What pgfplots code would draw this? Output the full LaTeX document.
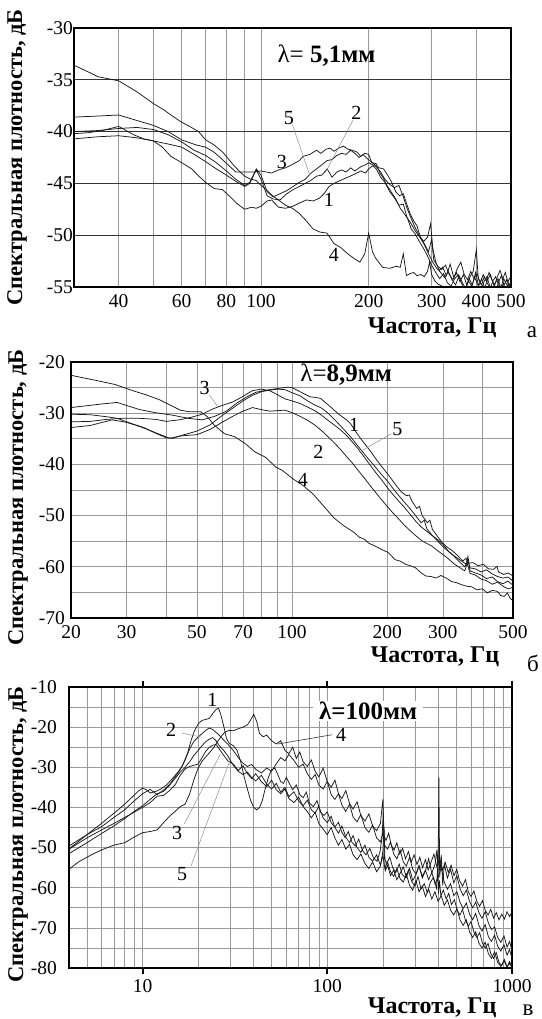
\documentclass[border=0pt]{standalone}
\usepackage{fontspec}
\setmainfont{Liberation Serif}
\usepackage{pgfplots}
\pgfplotsset{compat=1.18}
\pgfkeys{/pgf/number format/assume math mode=true}
\tikzset{
 mylead/.style={black!45, line width=0.5pt},
 mynum/.style={font=\fontsize{20}{20}\selectfont, inner sep=1pt},
 mylam/.style={font=\fontsize{25}{25}\selectfont, inner sep=2pt},
 mylet/.style={font=\fontsize{23}{23}\selectfont},
 mydark/.style={black!80, line width=0.8pt},
 mycurve/.style={line width=0.75pt, black!90},
}
\begin{document}
\begin{tikzpicture}[x=1pt,y=1pt]
\useasboundingbox (0,0) rectangle (541,1019);
% ---------------- panel a
\begin{axis}[xmode=log, scale only axis, clip mode=individual,
 axis line style={line width=2.4pt, line cap=rect},
 major tick length=0pt, minor tick length=0pt,
 tick label style={font=\fontsize{19.5}{19.5}\selectfont},
 yticklabel style={inner xsep=1pt},
 xticklabel style={yshift=-4pt},
 grid style={black!40, line width=0.6pt},
 xmajorgrids, xminorgrids,
 xlabel style={font=\bfseries\fontsize{24}{24}\selectfont, anchor=east, at={(axis description cs:0.975,-0.156)}},
 ylabel style={font=\bfseries\fontsize{22.5}{22.5}\selectfont, anchor=center, at={(axis description cs:-0.130,0.5)}},
 at={(74pt,732pt)}, anchor=south west, width=437pt, height=259pt,
 xmin=30, xmax=500, ymin=-55, ymax=-30,
 xtick={40,60,80,100,200,300,400,500}, xticklabels={40,60,80,100,200,300,400,500},
 minor xtick={50,70,90},
 ytick={-55,-50,-45,-40,-35,-30},
 xlabel={Частота, Гц},
 ylabel={Спектральная плотность, дБ},
]
\draw[mydark] (axis cs:30,-35) -- (axis cs:500,-35);
\draw[mydark] (axis cs:30,-40) -- (axis cs:500,-40);
\draw[mydark] (axis cs:30,-45) -- (axis cs:500,-45);
\draw[mydark] (axis cs:30,-50) -- (axis cs:500,-50);
% curve 4
\addplot[mycurve] coordinates {(30,-33.6)(32.7,-34.2)(35,-34.7)(37.4,-34.9)(40,-35.1)(41.8,-35.5)(44.7,-36.1)(47.8,-36.8)(50,-37.3)(53.5,-37.9)(56,-38.4)(60,-39.1)(63.9,-39.6)(66.9,-40.0)(70,-40.8)(74,-41.3)(78.2,-42.0)(80,-42.4)(83.6,-43.2)(87.4,-43.9)(90,-44.3)(93.5,-44.6)(96.7,-44.7)(100,-45.2)(103.4,-45.6)(106.9,-46.1)(111.8,-46.6)(116.9,-47.1)(122.3,-47.4)(127.9,-47.9)(133.7,-48.6)(139.8,-49.4)(146.2,-49.7)(152.9,-49.8)(159.9,-50.8)(167.2,-51.2)(174.8,-51.8)(182.9,-52.3)(189,-52.6)(195,-51.8)(200,-49.8)(205,-51.6)(209,-52.2)(218.7,-53.1)(228.7,-53.2)(239,-53.0)(245,-53.1)(250,-51.8)(255,-53.9)(261.5,-53.7)(267,-53.6)(273,-53.9)(280,-53.8)(286,-54.0)(292,-53.5)(296,-52.6)(300,-53.8)(306,-54.4)(312,-54.7)(320,-54.9)(325,-55.4)(330,-55.8)};
% curve 3
\addplot[mycurve] coordinates {(30,-38.6)(35,-38.5)(40,-38.4)(44.7,-38.9)(50,-39.4)(55,-40.0)(60,-40.8)(66,-41.3)(70,-41.5)(74,-42.0)(78,-42.7)(82,-43.4)(85,-43.9)(90,-43.9)(95.6,-43.9)(100,-43.8)(107,-44.0)(112,-43.7)(117,-43.5)(122,-43.2)(128,-42.8)(131,-42.4)(137,-42.2)(143,-41.8)(147,-42.1)(152,-41.7)(156,-41.6)(160,-41.9)(165,-41.6)(170,-41.4)(175,-41.7)(180,-41.8)(186,-42.0)(190,-42.4)(195,-42.1)(200,-42.2)(204,-43.0)(210,-43.1)(215,-44.0)(220,-44.5)(225,-45.2)(231,-45.8)(238,-46.5)(245,-47.4)(250,-47.8)(257,-48.4)(263,-49.4)(270,-49.9)(277,-50.6)(285,-51.3)(292,-52.0)(300,-52.9)(308,-53.6)(316,-54.2)(324,-53.7)(332,-54.6)(340,-54.9)(348,-54.2)(356,-53.8)(364,-54.7)(372,-55.2)(380,-54.4)(388,-54.9)(396,-54.1)(404,-54.8)(412,-55.3)(420,-54.5)(428,-54.0)(436,-54.9)(444,-55.4)(452,-54.6)(460,-54.2)(468,-55.1)(476,-54.7)(484,-55.3)(492,-54.6)(500,-55.0)};
% curve 1
\addplot[mycurve] coordinates {(30,-40.2)(33,-40.1)(36,-39.9)(40,-39.5)(42,-39.9)(44,-40.3)(47,-40.7)(50,-40.9)(53,-41.5)(56,-42.4)(60,-43.0)(64,-43.6)(67,-44.3)(70,-44.9)(74,-45.5)(78,-45.6)(82,-46.3)(86,-47.0)(90,-47.5)(94,-47.3)(97,-47.4)(100,-47.2)(104,-46.7)(107,-46.6)(112,-47.3)(117,-47.4)(123,-47.2)(128,-46.9)(134,-46.6)(140,-46.7)(146,-46.4)(150,-46.0)(155,-45.3)(160,-45.0)(167,-44.7)(175,-44.4)(183,-44.1)(190,-43.8)(196,-44.0)(200,-43.6)(205,-43.3)(210,-43.6)(216,-44.4)(222,-44.9)(229,-45.8)(236,-46.4)(243,-47.1)(250,-47.0)(256,-48.3)(263,-48.9)(270,-49.6)(278,-50.2)(286,-50.9)(294,-51.8)(302,-52.6)(310,-53.2)(318,-53.6)(326,-54.1)(334,-53.5)(342,-54.3)(350,-54.8)(358,-53.9)(366,-54.6)(374,-55.2)(382,-54.2)(390,-54.8)(398,-53.6)(406,-54.9)(414,-54.2)(422,-55.1)(430,-54.3)(438,-53.8)(446,-54.7)(454,-55.3)(462,-54.5)(470,-53.9)(478,-54.8)(486,-54.3)(494,-55.0)(500,-54.6)};
% curve 5
\addplot[mycurve] coordinates {(30,-40.0)(35,-39.9)(40,-39.7)(45,-39.6)(50,-39.8)(55,-40.3)(60,-41.0)(65,-41.8)(70,-42.3)(75,-43.0)(80,-43.8)(85,-44.6)(90,-45.2)(93,-44.9)(97,-43.6)(100,-44.2)(104,-45.8)(108,-46.3)(113,-46.0)(118,-45.7)(123,-45.3)(128,-44.9)(133,-44.6)(138,-44.0)(143,-43.6)(148,-43.2)(153,-42.8)(158,-42.7)(163,-42.3)(168,-42.1)(173,-42.2)(178,-41.8)(183,-42.1)(188,-42.5)(193,-42.2)(198,-42.6)(203,-42.9)(208,-43.2)(214,-43.5)(220,-43.6)(226,-44.2)(232,-44.9)(238,-45.8)(244,-46.2)(250,-46.0)(255,-46.9)(261,-47.9)(267,-48.6)(273,-49.1)(279,-50.2)(285,-50.6)(292,-50.2)(298,-48.9)(302,-51.2)(308,-52.6)(315,-53.4)(322,-53.1)(330,-53.9)(338,-52.8)(346,-54.1)(354,-53.2)(362,-52.6)(370,-53.8)(378,-54.3)(386,-53.5)(394,-54.2)(402,-53.7)(410,-54.6)(418,-53.8)(426,-54.4)(434,-53.6)(442,-54.3)(450,-54.8)(458,-54.0)(466,-53.4)(474,-54.2)(482,-53.6)(490,-54.5)(500,-53.9)};
% curve 2
\addplot[mycurve] coordinates {(30,-40.7)(35,-40.5)(40,-40.4)(45,-40.6)(50,-40.9)(55,-41.2)(60,-41.5)(65,-42.2)(70,-42.9)(75,-43.6)(80,-44.2)(85,-44.8)(90,-45.3)(93,-45.0)(97,-43.7)(100,-44.6)(104,-46.2)(108,-46.5)(113,-46.6)(118,-46.0)(123,-45.6)(128,-45.3)(133,-45.0)(138,-44.7)(143,-44.3)(148,-44.2)(153,-43.6)(158,-44.4)(163,-43.9)(168,-43.7)(173,-43.9)(178,-43.5)(183,-43.8)(190,-43.4)(196,-43.2)(200,-43.0)(205,-43.2)(210,-43.4)(216,-43.9)(222,-44.6)(229,-45.1)(236,-45.4)(243,-45.2)(250,-46.3)(256,-47.4)(263,-48.4)(270,-49.3)(278,-50.1)(286,-50.8)(294,-51.6)(300,-50.4)(304,-52.4)(312,-53.0)(320,-53.3)(328,-52.9)(336,-53.8)(344,-54.3)(352,-53.6)(360,-54.5)(368,-53.8)(376,-54.8)(384,-54.0)(392,-53.5)(400,-51.4)(405,-54.2)(413,-54.8)(421,-54.0)(429,-54.6)(437,-55.2)(445,-54.4)(453,-54.0)(461,-54.8)(469,-55.0)(477,-54.2)(485,-54.7)(493,-55.1)(500,-54.4)};
\draw[mylead] (axis cs:122.3,-39.3) -- (axis cs:136.8,-44.2);
\draw[mylead] (axis cs:180.8,-38.9) -- (axis cs:151.1,-44.0);
\node[mynum] at (axis cs:119.6,-38.7) {5};
\node[mynum] at (axis cs:184.9,-38.2) {2};
\node[mynum] at (axis cs:114.4,-42.9) {3};
\node[mynum] at (axis cs:154.7,-46.6) {1};
\node[mynum] at (axis cs:159.9,-51.9) {4};
\node[mylam] at (axis cs:152.4,-32.7) {λ= \textbf{5,1мм}};
\node[mylet] at (axis description cs:1.048,-0.174) {а};
\end{axis}
% ---------------- panel b
\begin{axis}[xmode=log, scale only axis, clip mode=individual,
 axis line style={line width=2.4pt, line cap=rect},
 major tick length=0pt, minor tick length=0pt,
 tick label style={font=\fontsize{19.5}{19.5}\selectfont},
 yticklabel style={inner xsep=6pt},
 xticklabel style={yshift=-4pt},
 grid style={black!40, line width=0.6pt},
 xmajorgrids, xminorgrids, ymajorgrids, yminorgrids,
 xlabel style={font=\bfseries\fontsize{24}{24}\selectfont, anchor=east, at={(axis description cs:0.977,-0.152)}},
 ylabel style={font=\bfseries\fontsize{22.5}{22.5}\selectfont, anchor=center, at={(axis description cs:-0.120,0.47)}},
 at={(71pt,401pt)}, anchor=south west, width=442pt, height=256pt,
 xmin=20, xmax=500, ymin=-70, ymax=-20,
 xtick={20,30,50,70,100,200,300,500}, xticklabels={20,30,50,70,100,200,300,500},
 minor xtick={40,60,80,90,400},
 ytick={-70,-60,-50,-40,-30,-20}, minor ytick={-65,-55,-45,-35,-25},
 xlabel={Частота, Гц},
 ylabel={Спектральная плотность, дБ},
]
% curve 4
\addplot[mycurve] coordinates {(20,-22.6)(24,-23.6)(27.6,-24.4)(31,-25.5)(34.5,-26.4)(38.2,-27.4)(41.1,-28.4)(44.3,-29.4)(47.1,-29.7)(51.4,-29.7)(54,-30.7)(56.7,-32.3)(61.1,-34.0)(65.9,-34.6)(71,-35.9)(76.5,-37.6)(82.4,-38.6)(88.8,-40.5)(93.3,-41.2)(100.5,-42.8)(108.3,-44.1)(116.6,-45.8)(125.7,-48.1)(135.4,-50.4)(145.9,-52.0)(157.2,-53.3)(163,-54.2)(169.3,-54.6)(175,-55.4)(182.4,-55.9)(191.9,-56.6)(201.4,-57.2)(211.8,-58.6)(220,-58.9)(228.3,-59.5)(237,-59.8)(245.9,-60.2)(255,-61.1)(264.9,-61.8)(275,-61.9)(285.4,-62.2)(296,-61.7)(307.5,-62.2)(320,-62.9)(331.3,-63.1)(344,-63.5)(357,-63.8)(370,-63.9)(384.6,-64.5)(400,-64.3)(414.4,-65.1)(430,-64.6)(446.4,-64.8)(457,-65.6)(469,-65.8)(480,-65.1)(490,-66.2)(500,-66.6)};
% curve 1
\addplot[mycurve] coordinates {(20,-28.9)(22,-28.6)(25,-28.2)(28,-27.9)(30,-28.5)(33,-29.3)(37,-29.9)(42,-30.4)(47,-31.0)(52,-31.3)(57,-30.6)(62,-29.6)(67,-28.0)(72,-26.8)(77,-25.9)(85,-25.4)(92,-25.1)(97,-24.9)(100,-25.0)(106,-25.8)(114,-26.8)(118,-26.9)(123,-27.1)(128,-28.0)(132,-28.7)(137,-29.6)(142,-30.4)(148,-31.2)(153,-32.0)(159,-33.6)(165,-35.0)(171,-36.2)(178,-37.6)(184,-38.9)(191,-40.2)(198,-41.4)(206,-42.8)(214,-44.2)(222,-45.4)(230,-46.1)(235,-46.0)(239,-47.1)(248,-48.6)(253,-48.2)(258,-50.0)(268,-51.4)(273,-50.9)(278,-52.7)(288,-54.0)(299,-55.3)(310,-56.2)(322,-56.9)(334,-57.8)(347,-58.9)(355,-58.3)(360,-59.3)(374,-59.2)(388,-59.8)(403,-59.5)(418,-60.4)(434,-60.5)(445,-59.9)(450,-61.0)(467,-61.5)(483,-61.2)(500,-61.8)};
% curve 5
\addplot[mycurve] coordinates {(20,-30.2)(23,-30.3)(26,-30.7)(28,-31.0)(31,-32.0)(34,-32.8)(37,-33.9)(40,-34.8)(42,-34.9)(45,-34.3)(50,-33.5)(55,-32.3)(60,-30.5)(65,-29.0)(70,-27.6)(75,-26.5)(80,-25.8)(85,-25.5)(90,-25.3)(95,-25.4)(100,-26.0)(106,-26.6)(112,-27.6)(118,-28.4)(124,-29.0)(130,-30.0)(136,-31.2)(142,-32.4)(148,-33.6)(155,-35.0)(162,-36.5)(169,-37.9)(176,-39.2)(184,-40.6)(192,-42.0)(200,-43.2)(208,-44.6)(217,-46.0)(226,-47.3)(236,-48.6)(246,-50.0)(256,-51.4)(262,-50.9)(267,-52.6)(278,-53.9)(290,-55.1)(302,-56.2)(315,-57.2)(328,-58.0)(342,-58.8)(356,-59.5)(360,-58.0)(365,-60.2)(380,-60.4)(396,-61.0)(412,-60.6)(430,-61.4)(447,-61.9)(465,-62.2)(482,-62.0)(500,-62.8)};
% curve 3
\addplot[mycurve] coordinates {(20,-31.7)(23,-31.6)(26,-31.2)(29,-31.0)(33,-31.0)(37,-31.2)(40,-31.6)(44,-31.3)(48,-30.8)(52,-30.2)(56,-29.2)(60,-28.5)(65,-27.8)(70,-26.7)(75,-25.6)(80,-25.3)(85,-25.6)(90,-26.4)(95,-27.2)(100,-27.6)(106,-28.1)(112,-28.8)(118,-29.5)(124,-30.4)(130,-31.4)(136,-32.3)(142,-33.2)(148,-34.2)(155,-35.6)(162,-37.0)(169,-38.5)(176,-40.0)(184,-41.6)(192,-43.0)(200,-44.5)(208,-45.8)(217,-47.1)(226,-48.3)(236,-49.7)(246,-51.1)(256,-52.2)(266,-53.0)(276,-53.8)(288,-54.6)(300,-55.6)(312,-56.9)(325,-57.9)(338,-59.0)(352,-60.0)(360,-58.6)(366,-60.8)(380,-61.2)(396,-61.6)(412,-62.3)(430,-62.0)(447,-62.9)(465,-63.3)(482,-62.8)(500,-63.6)};
% curve 2
\addplot[mycurve] coordinates {(20,-32.8)(23,-32.4)(27,-31.3)(30,-31.8)(33,-32.6)(37,-33.8)(41,-34.9)(45,-34.4)(50,-34.2)(55,-33.2)(60,-31.8)(65,-30.6)(70,-29.6)(75,-28.9)(80,-29.3)(85,-29.6)(90,-29.5)(95,-29.4)(100,-29.9)(106,-30.6)(112,-31.4)(118,-32.3)(124,-33.4)(130,-34.6)(136,-35.8)(142,-37.0)(148,-38.3)(155,-39.7)(162,-41.2)(169,-42.6)(176,-44.0)(184,-45.5)(192,-46.9)(200,-48.2)(208,-49.4)(217,-50.6)(226,-51.8)(236,-52.9)(246,-53.9)(256,-54.8)(266,-55.4)(276,-55.9)(288,-56.8)(300,-57.6)(312,-58.4)(325,-59.4)(338,-60.1)(352,-60.8)(358,-59.3)(366,-61.3)(380,-61.6)(396,-62.4)(412,-62.7)(430,-63.4)(447,-63.0)(465,-63.8)(482,-64.3)(500,-64.0)};
\draw[mylead] (axis cs:54.7,-26.4) -- (axis cs:58.2,-28.7);
\draw[mylead] (axis cs:206.3,-34.0) -- (axis cs:163,-37.6);
\node[mynum] at (axis cs:52.9,-25.1) {3};
\node[mynum] at (axis cs:157.1,-32.3) {1};
\node[mynum] at (axis cs:215.4,-33.0) {5};
\node[mynum] at (axis cs:121.1,-37.6) {2};
\node[mynum] at (axis cs:108.3,-43.1) {4};
\node[mylam] at (axis cs:148.4,-22.5) {λ=\textbf{8,9мм}};
\node[mylet] at (axis description cs:1.045,-0.178) {б};
\end{axis}
% ---------------- panel c
\begin{axis}[xmode=log, scale only axis, clip mode=individual,
 axis line style={line width=2.4pt, line cap=rect},
 major tick length=6pt, minor tick length=0pt, tick align=outside,
 xtick style={black, line width=2pt}, ytick style={draw=none},
 tick label style={font=\fontsize{19.5}{19.5}\selectfont},
 yticklabel style={inner xsep=6pt},
 xticklabel style={yshift=-2pt},
 grid style={black!40, line width=0.6pt},
 xmajorgrids, xminorgrids, ymajorgrids, yminorgrids,
 xlabel style={font=\bfseries\fontsize{24}{24}\selectfont, anchor=east, at={(axis description cs:0.973,-0.142)}},
 ylabel style={font=\bfseries\fontsize{22.5}{22.5}\selectfont, anchor=center, at={(axis description cs:-0.115,0.475)}},
 at={(69pt,51pt)}, anchor=south west, width=443pt, height=281pt,
 xmin=4, xmax=1000, ymin=-80, ymax=-10,
 xtick={10,100,1000}, xticklabels={10,100,1000},
 minor xtick={5,6,7,8,9,20,30,40,50,60,70,80,90,200,300,400,500,600,700,800,900},
 ytick={-80,-70,-60,-50,-40,-30,-20,-10}, minor ytick={-75,-65,-55,-45,-35,-25,-15},
 xlabel={Частота, Гц},
 ylabel={Спектральная плотность, дБ},
]
% curve 1
\addplot[mycurve] coordinates {(4,-50.3)(4.5,-48.5)(5,-46.8)(5.5,-45.3)(6,-44)(6.6,-42.4)(7.2,-41)(8,-39.2)(8.8,-37.4)(9.5,-35.9)(10,-35.2)(10.5,-35.6)(11,-36.4)(11.8,-36)(12.5,-35.5)(13.5,-34.4)(14.5,-32.8)(15.5,-31.3)(16.5,-29.5)(17.5,-26.6)(18.3,-23.4)(19,-21.2)(20,-19.2)(21,-18.3)(22,-18.1)(23,-17.8)(24,-16.6)(25,-15.6)(25.8,-15.3)(26.5,-16.8)(27.5,-19.7)(28.5,-22.8)(29.5,-24.1)(31,-24.6)(32.5,-25.8)(34,-28.6)(35.5,-32.4)(37,-35.5)(38.5,-38.3)(40,-40.0)(41.5,-40.6)(43,-40.0)(44.5,-38.3)(46,-35.6)(48,-32.5)(50,-30.6)(52,-30.2)(54,-31.8)(56,-33.6)(58,-34.0)(60,-32.5)(62,-33.8)(65,-35.6)(68,-34.4)(71,-36.8)(74,-37.6)(77,-36.2)(80,-38.9)(84,-39.8)(88,-38.3)(92,-41.2)(96,-42.0)(100,-41.1)(105,-43.8)(110,-44.9)(115,-43.7)(120,-46.2)(125,-47.5)(130,-46.0)(136,-48.7)(142,-49.6)(148,-47.9)(155,-50.7)(162,-51.8)(170,-50.2)(178,-52.6)(186,-53.4)(193,-51.0)(198,-47.5)(201,-41.0)(204,-52.8)(210,-53.9)(218,-52.4)(226,-55.0)(235,-56.2)(245,-54.1)(255,-56.8)(265,-57.5)(275,-55.6)(286,-58.4)(298,-59.6)(310,-57.2)(322,-60.3)(335,-59.0)(348,-61.2)(362,-58.6)(376,-57.4)(390,-60.1)(396,-55.0)(400,-61.5)(405,-58.2)(412,-62.0)(425,-60.6)(440,-62.8)(455,-61.4)(470,-64.2)(488,-63.0)(505,-65.6)(522,-66.8)(540,-65.4)(560,-68.2)(580,-69.6)(600,-68.4)(622,-71.0)(645,-72.4)(668,-71.2)(692,-73.8)(716,-75.0)(742,-73.9)(768,-76.4)(795,-77.6)(822,-76.2)(850,-78.6)(880,-79.4)(910,-77.9)(940,-79.8)(970,-78.4)(1000,-79.6)};
% curve 2
\addplot[mycurve] coordinates {(4,-49.6)(5,-46.8)(6,-44.8)(7,-42.5)(8,-40.6)(9,-38.4)(10,-36.6)(11,-35.5)(12,-36.8)(13,-35.7)(14,-34.3)(15,-32.4)(16,-30.6)(17,-28.2)(18,-25.4)(19,-23.5)(20,-22.5)(21,-21.6)(22,-20.8)(23,-20.2)(24,-20.6)(25,-21.3)(26,-22.0)(27.5,-23.2)(29,-24.3)(31,-25.8)(33,-27.6)(35,-29.0)(37,-29.8)(39,-29.3)(41,-30.5)(44,-31.4)(47,-30.2)(50,-31.0)(53,-29.1)(56,-27.6)(59,-28.4)(62,-26.8)(66,-28.3)(70,-30.0)(74,-29.2)(78,-31.6)(82,-33.0)(86,-31.8)(90,-34.4)(95,-35.4)(100,-33.5)(105,-36.8)(110,-38.0)(115,-36.6)(120,-39.4)(126,-41.0)(132,-39.2)(138,-42.4)(145,-43.6)(152,-41.8)(160,-45.0)(168,-46.2)(176,-44.4)(185,-47.6)(194,-48.6)(200,-46.2)(205,-49.5)(212,-50.4)(220,-48.6)(229,-51.6)(238,-52.8)(248,-50.6)(258,-53.6)(268,-54.6)(279,-52.4)(290,-55.4)(302,-56.6)(314,-54.5)(327,-57.2)(340,-55.6)(354,-58.0)(368,-56.2)(383,-59.0)(398,-57.4)(414,-55.0)(430,-58.6)(447,-60.4)(465,-59.0)(484,-62.0)(503,-61.0)(523,-63.6)(544,-65.2)(566,-63.8)(589,-66.6)(612,-68.0)(636,-66.4)(662,-69.4)(688,-70.8)(716,-69.2)(745,-72.2)(774,-73.4)(805,-71.8)(837,-74.6)(870,-75.8)(905,-74.2)(940,-76.8)(970,-75.4)(1000,-77.6)};
% curve 3
\addplot[mycurve] coordinates {(4,-51.5)(5,-48.8)(6,-46.5)(7,-44.6)(8,-42.8)(9,-41.0)(10,-39.6)(11,-38.0)(12,-36.6)(13,-36.0)(14,-34.5)(15,-32.8)(16,-31.2)(17,-30.0)(18,-28.6)(19,-27.0)(20,-25.8)(21,-24.6)(22,-23.6)(23,-23.0)(24,-22.6)(25,-23.4)(26,-24.6)(27.5,-25.8)(29,-27.2)(31,-29.5)(33,-31.0)(35,-31.8)(37,-31.2)(39,-32.6)(41,-33.4)(44,-32.0)(47,-34.2)(50,-35.4)(53,-34.0)(56,-36.2)(59,-35.0)(62,-37.3)(66,-36.1)(70,-38.4)(74,-39.6)(78,-38.2)(82,-40.6)(86,-41.4)(90,-39.8)(95,-42.6)(100,-43.8)(105,-42.2)(110,-45.0)(115,-46.4)(120,-44.6)(126,-47.4)(132,-48.8)(138,-47.0)(145,-50.0)(152,-51.2)(160,-49.4)(168,-52.4)(176,-53.4)(185,-51.8)(194,-54.4)(200,-52.0)(205,-55.2)(212,-53.6)(220,-56.0)(229,-57.2)(238,-55.2)(248,-57.8)(258,-58.6)(268,-56.6)(279,-59.4)(290,-60.6)(302,-58.2)(314,-61.0)(327,-59.6)(340,-62.2)(354,-60.4)(368,-62.8)(383,-61.0)(398,-63.4)(414,-62.0)(430,-64.4)(447,-63.0)(465,-65.6)(484,-66.8)(503,-65.2)(523,-68.0)(544,-69.4)(566,-68.0)(589,-71.0)(612,-72.4)(636,-71.0)(662,-73.8)(688,-75.0)(716,-73.6)(745,-76.4)(774,-77.6)(805,-76.0)(837,-78.6)(870,-79.6)(905,-78.2)(940,-79.8)(970,-78.8)(1000,-80.0)};
% curve 5
\addplot[mycurve] coordinates {(4,-50.4)(5,-47.6)(6,-45.6)(7,-44.0)(8,-42.5)(9,-41.2)(10,-40.0)(11,-38.8)(12,-37.2)(13,-37.0)(14,-35.8)(15,-34.4)(16,-32.0)(17,-30.4)(18,-29.8)(19,-29.5)(20,-29.2)(21,-27.6)(22,-26.0)(23,-25.0)(24,-24.5)(25,-24.3)(26,-25.4)(27.5,-27.0)(29,-28.4)(31,-29.2)(33,-30.8)(35,-29.6)(37,-31.6)(39,-32.8)(41,-31.6)(44,-33.6)(47,-34.8)(50,-33.2)(53,-35.6)(56,-36.6)(59,-35.4)(62,-37.8)(66,-38.8)(70,-37.4)(74,-39.8)(78,-41.0)(82,-42.6)(86,-41.2)(90,-44.0)(95,-45.4)(100,-46.8)(105,-45.0)(110,-47.6)(115,-49.4)(120,-48.0)(126,-50.4)(132,-49.2)(138,-51.8)(145,-53.0)(152,-51.6)(160,-54.0)(168,-55.2)(176,-53.6)(185,-56.0)(194,-54.6)(200,-51.0)(203,-45.0)(206,-55.8)(212,-54.4)(220,-57.0)(229,-55.6)(238,-58.0)(248,-56.4)(258,-54.8)(268,-57.4)(279,-55.2)(290,-58.2)(302,-56.8)(314,-54.6)(327,-57.6)(340,-55.8)(354,-52.8)(368,-56.4)(383,-54.2)(392,-50.6)(398,-56.0)(402,-32.5)(406,-57.4)(414,-51.8)(422,-59.5)(430,-54.0)(447,-57.6)(465,-55.4)(484,-58.8)(503,-57.0)(523,-60.2)(544,-62.0)(566,-60.6)(589,-63.4)(612,-65.0)(636,-63.6)(662,-66.2)(688,-67.6)(716,-66.0)(745,-68.8)(774,-70.4)(805,-69.8)(837,-72.4)(870,-73.6)(905,-72.0)(940,-74.8)(970,-73.4)(1000,-75.6)};
% curve 4
\addplot[mycurve] coordinates {(4,-55.4)(4.5,-53.6)(5,-52.4)(5.5,-51.4)(6,-50.6)(7,-49.4)(8,-48.8)(9,-47.4)(10,-46.3)(11,-46.0)(12,-45.6)(13,-43.8)(14,-42.2)(15,-41.0)(16,-39.8)(17,-39.2)(18,-36.6)(19,-33.0)(20,-30.2)(21,-28.5)(22,-27.4)(23,-26.4)(24,-25.4)(25,-24.2)(26,-23.0)(27,-22.0)(28,-21.2)(29.5,-20.8)(31,-20.9)(33,-20.4)(35,-20.0)(37,-19.4)(38.5,-18.2)(40,-16.8)(41.5,-18.6)(43,-21.6)(45,-22.4)(47,-22.0)(50,-23.4)(53,-24.2)(56,-23.4)(59,-25.8)(62,-26.6)(65,-25.0)(68,-27.8)(71,-26.2)(74,-28.6)(78,-29.8)(82,-28.2)(86,-31.0)(90,-32.4)(95,-30.2)(100,-33.6)(105,-35.0)(110,-33.2)(115,-36.6)(120,-37.8)(126,-35.8)(132,-39.0)(138,-40.4)(145,-38.6)(152,-42.0)(160,-43.4)(168,-41.6)(176,-44.6)(185,-45.8)(194,-44.0)(200,-38.0)(203,-47.0)(208,-48.2)(215,-46.4)(222,-49.4)(230,-50.6)(238,-48.8)(247,-51.6)(256,-50.2)(265,-52.8)(275,-51.0)(285,-53.6)(295,-51.8)(306,-54.2)(317,-52.4)(328,-55.0)(340,-53.0)(352,-55.6)(365,-53.6)(378,-51.6)(392,-54.8)(406,-52.6)(420,-55.6)(436,-53.8)(452,-56.2)(468,-54.4)(485,-57.0)(502,-55.4)(520,-58.2)(540,-59.6)(560,-58.0)(580,-61.0)(600,-62.2)(622,-60.8)(645,-63.4)(668,-64.6)(692,-63.2)(716,-65.6)(742,-66.8)(768,-65.4)(795,-67.6)(822,-66.2)(850,-68.0)(880,-66.6)(910,-67.8)(940,-66.0)(970,-67.2)(1000,-66.0)};
\draw[mylead] (axis cs:16.4,-21.5) -- (axis cs:20.9,-22.5);
\draw[mylead] (axis cs:16.8,-44.2) -- (axis cs:26.4,-26.7);
\draw[mylead] (axis cs:18.3,-54.6) -- (axis cs:29.5,-28.75);
\draw[black!80, line width=0.6pt] (axis cs:106,-21.9) -- (axis cs:54.1,-24.2);
\node[mynum] at (axis cs:23.9,-13.3) {1};
\node[mynum] at (axis cs:14.3,-20.8) {2};
\node[mynum] at (axis cs:15.4,-46.3) {3};
\node[mynum] at (axis cs:16.4,-56.7) {5};
\node[mynum] at (axis cs:119,-21.9) {4};
\node[mylam, font=\bfseries\fontsize{25}{25}\selectfont, fill=white, inner xsep=6pt, inner ysep=1pt] at (axis cs:166.5,-15.9) {λ=100мм};
\node[mylet] at (axis description cs:1.036,-0.149) {в};
\end{axis}
\end{tikzpicture}
\end{document}
